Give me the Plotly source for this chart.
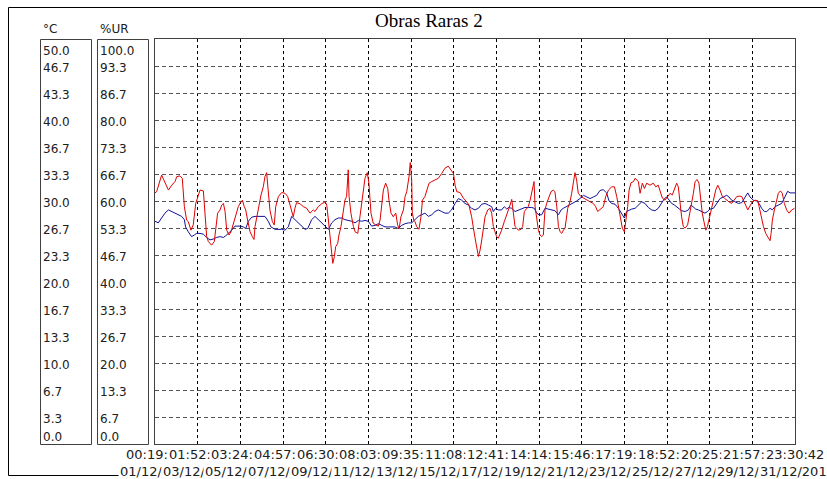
import plotly.graph_objects as go
from datetime import datetime, timedelta

# ---------------- data ----------------
title = "Obras Raras 2"
start = datetime(2019, 12, 1, 0, 19, 30)
end = datetime(2019, 12, 31, 23, 30, 42)

time_labels = ["00:19", "01:52", "03:24", "04:57", "06:30", "08:03", "09:35", "11:08",
               "12:41", "14:14", "15:46", "17:19", "18:52", "20:25", "21:57", "23:30:42"]
date_labels = ["01/12", "03/12", "05/12", "07/12", "09/12", "11/12", "13/12", "15/12",
               "17/12", "19/12", "21/12", "23/12", "25/12", "27/12", "29/12", "31/12/2019"]
temp_ticks = ["0.0", "3.3", "6.7", "10.0", "13.3", "16.7", "20.0", "23.3",
              "26.7", "30.0", "33.3", "36.7", "40.0", "43.3", "46.7", "50.0"]
rh_ticks = ["0.0", "6.7", "13.3", "20.0", "26.7", "33.3", "40.0", "46.7",
            "53.3", "60.0", "66.7", "73.3", "80.0", "86.7", "93.3", "100.0"]
temp_unit = "°C"
rh_unit = "%UR"
temp_range = [0, 50]
rh_range = [0, 100]

# (days since first record, °C)
temp_log = [
    (0.00, 27.5), (0.16, 27.3), (0.32, 27.9), (0.48, 28.5), (0.65, 28.9), (0.81, 28.7), (0.97, 28.5),
    (1.13, 28.3), (1.29, 28.1), (1.42, 27.7), (1.48, 26.8), (1.61, 26.2), (1.77, 25.6), (1.90, 25.8),
    (2.02, 26.0), (2.18, 26.0), (2.34, 25.9), (2.50, 25.5), (2.66, 25.2), (2.82, 25.3), (2.98, 25.5),
    (3.15, 25.6), (3.31, 25.5), (3.42, 25.7), (3.55, 26.0), (3.71, 26.4), (3.87, 26.9), (4.03, 26.9),
    (4.16, 26.9), (4.27, 26.8), (4.39, 26.6), (4.52, 27.5), (4.68, 28.0), (4.84, 28.1), (5.08, 28.1),
    (5.32, 28.1), (5.48, 27.5), (5.61, 26.8), (5.81, 26.5), (5.97, 26.5), (6.13, 26.5), (6.29, 26.4),
    (6.45, 26.8), (6.61, 28.1), (6.77, 27.7), (6.94, 27.3), (7.10, 26.9), (7.26, 26.5), (7.39, 26.6),
    (7.58, 27.7),
    (7.74, 28.1), (7.90, 27.7), (8.06, 27.3), (8.23, 26.9), (8.39, 26.5), (8.55, 27.3), (8.71, 27.7),
    (8.87, 27.9), (9.03, 27.9), (9.19, 27.7), (9.35, 27.6), (9.52, 27.5), (9.68, 27.3), (9.84, 27.6),
    (10.00, 27.5), (10.16, 27.6), (10.32, 27.5), (10.48, 26.9), (10.65, 27.0), (10.81, 27.2),
    (10.97, 27.0), (11.13, 26.8), (11.29, 26.8), (11.45, 26.8), (11.61, 26.8), (11.77, 26.6),
    (11.94, 27.0), (12.10, 27.2), (12.26, 27.3), (12.42, 27.3), (12.58, 27.7), (12.74, 28.1),
    (12.90, 28.3), (13.06, 28.5), (13.23, 28.1), (13.39, 28.3), (13.55, 28.7), (13.71, 28.9),
    (13.87, 28.7), (14.03, 28.5), (14.19, 28.5), (14.35, 28.9), (14.52, 29.7), (14.68, 30.3),
    (14.84, 30.1), (15.00, 29.7), (15.16, 29.5), (15.32, 29.1),
    (15.48, 28.9), (15.65, 29.1), (15.81, 29.6), (15.97, 29.7), (16.13, 29.5), (16.29, 29.3),
    (16.37, 28.7), (16.48, 29.1), (16.61, 28.9), (16.77, 28.9), (16.90, 29.3), (17.02, 29.0),
    (17.10, 29.2), (17.26, 29.1), (17.42, 28.7), (17.58, 28.9), (17.74, 29.1), (17.90, 29.2),
    (18.06, 29.2), (18.23, 29.2), (18.35, 29.1), (18.47, 28.5), (18.58, 28.3), (18.71, 28.3),
    (18.87, 29.1), (19.03, 29.0), (19.19, 28.9), (19.35, 28.8), (19.52, 28.3), (19.65, 28.9),
    (19.76, 29.1), (19.92, 29.3), (20.08, 29.5), (20.24, 29.7), (20.40, 30.0), (20.56, 30.3),
    (20.73, 30.7), (20.89, 30.5), (21.05, 30.3), (21.21, 30.5), (21.37, 30.7), (21.53, 31.3),
    (21.69, 31.4), (21.85, 31.0), (21.97, 30.0), (22.10, 29.7), (22.26, 29.6), (22.42, 29.1),
    (22.58, 28.5), (22.71, 27.9), (22.82, 28.7), (22.94, 28.9), (23.06, 29.0),
    (23.23, 29.1), (23.39, 29.5), (23.55, 29.9), (23.71, 29.7), (23.87, 29.2), (24.03, 28.9),
    (24.19, 28.8), (24.35, 29.1), (24.52, 29.7), (24.65, 30.3), (24.76, 30.5), (24.87, 30.1),
    (25.00, 29.7), (25.13, 29.5), (25.24, 29.3), (25.35, 29.1), (25.48, 28.8), (25.65, 28.7),
    (25.81, 28.9), (25.94, 29.5), (26.05, 29.3), (26.16, 29.0), (26.29, 28.9), (26.45, 28.7),
    (26.61, 28.5), (26.74, 28.7), (26.85, 29.0), (27.02, 29.1), (27.18, 29.7), (27.34, 30.3),
    (27.50, 30.5), (27.66, 30.7), (27.77, 30.5), (27.90, 30.1), (28.06, 29.9), (28.23, 29.7),
    (28.39, 29.8), (28.55, 30.5), (28.68, 31.0), (28.79, 30.5), (28.95, 30.1), (29.11, 30.0),
    (29.23, 29.7), (29.35, 29.1), (29.48, 28.7), (29.60, 28.7), (29.76, 29.1), (29.87, 28.9),
    (30.00, 29.3), (30.16, 29.5), (30.32, 29.7), (30.48, 30.5), (30.61, 31.2), (30.73, 31.0),
    (30.89, 31.0), (30.97, 31.0),
]

# (days since first record, %UR)
rh_log = [
    (0.00, 62.0), (0.08, 62.3), (0.32, 66.4), (0.48, 64.4), (0.65, 62.7), (0.81, 63.9), (0.97, 64.8),
    (1.05, 66.0), (1.21, 66.2), (1.32, 65.6), (1.42, 58.6), (1.53, 55.3), (1.61, 54.9), (1.74, 52.8),
    (1.85, 54.1), (1.97, 59.4), (2.06, 61.1), (2.18, 62.7), (2.34, 62.5), (2.42, 57.8), (2.50, 51.2),
    (2.58, 50.0), (2.74, 49.1), (2.87, 50.0), (2.94, 52.8), (3.03, 57.0), (3.15, 57.8), (3.23, 59.0),
    (3.31, 59.4), (3.39, 57.4), (3.47, 52.8), (3.58, 51.6), (3.68, 52.4), (3.79, 54.5), (3.90, 56.1),
    (4.03, 58.6), (4.11, 59.4), (4.23, 60.2), (4.32, 58.6), (4.39, 57.8), (4.48, 55.3), (4.60, 52.4),
    (4.71, 51.2), (4.79, 50.5), (4.84, 53.7), (4.92, 56.1), (5.03, 59.0), (5.13, 61.5), (5.24, 63.5),
    (5.32, 66.0), (5.40, 67.0), (5.48, 61.9), (5.56, 57.8), (5.68, 54.9), (5.77, 54.1), (5.84, 58.6),
    (5.97, 61.1), (6.13, 62.1), (6.29, 61.9), (6.42, 61.1), (6.50, 59.4), (6.61, 57.4), (6.69, 56.1),
    (6.77, 58.2), (6.85, 59.6), (7.02, 59.3), (7.18, 58.6), (7.34, 58.2), (7.50, 57.0), (7.66, 57.8),
    (7.74, 57.4), (7.90, 58.6), (8.06, 59.3), (8.23, 59.8), (8.31, 59.0), (8.39, 55.3), (8.47, 50.4),
    (8.55, 47.1), (8.60, 44.6), (8.68, 46.3), (8.74, 48.7), (8.84, 49.5), (8.90, 51.6), (9.00, 53.7),
    (9.11, 57.8), (9.19, 60.2), (9.27, 61.1), (9.35, 67.7), (9.39, 61.1), (9.48, 57.0), (9.60, 53.7),
    (9.68, 52.4), (9.81, 52.0), (9.87, 54.5), (9.97, 57.8), (10.05, 61.9), (10.16, 65.6),
    (10.27, 67.0), (10.35, 64.4), (10.45, 57.0), (10.56, 54.5), (10.68, 54.1), (10.81, 53.8),
    (10.89, 55.3), (10.97, 59.4), (11.05, 62.7), (11.16, 64.4), (11.26, 63.1), (11.32, 60.2),
    (11.42, 57.0), (11.53, 56.1), (11.65, 57.0), (11.74, 54.1), (11.81, 53.1), (11.90, 56.1),
    (12.02, 57.8), (12.10, 61.1), (12.18, 62.3), (12.29, 66.0), (12.35, 69.5), (12.42, 65.2),
    (12.45, 57.0), (12.52, 55.3), (12.58, 54.9), (12.66, 53.7), (12.77, 53.0), (12.87, 56.1),
    (12.94, 60.2), (13.06, 61.1), (13.15, 62.7), (13.26, 64.4), (13.39, 64.8), (13.55, 65.2),
    (13.71, 65.6), (13.87, 66.8), (14.03, 68.1), (14.19, 68.6), (14.35, 67.5), (14.44, 66.8),
    (14.52, 63.9), (14.60, 62.3), (14.76, 62.1), (14.92, 60.7), (15.08, 59.8), (15.19, 59.0),
    (15.32, 56.1), (15.45, 51.2),
    (15.48, 51.0), (15.65, 46.3), (15.73, 47.9), (15.81, 50.4), (15.89, 53.7), (15.97, 56.1),
    (16.10, 57.8), (16.21, 58.2), (16.29, 57.0), (16.37, 53.7), (16.45, 52.4), (16.53, 51.2),
    (16.61, 50.8), (16.69, 51.6), (16.77, 52.8), (16.90, 54.9), (17.02, 56.5), (17.10, 57.8),
    (17.18, 59.0), (17.26, 60.4), (17.34, 57.0), (17.42, 53.7), (17.50, 53.3), (17.58, 52.8),
    (17.71, 53.0), (17.79, 53.7), (17.87, 57.4), (17.95, 57.8), (18.06, 58.6), (18.15, 60.2),
    (18.26, 62.7), (18.34, 64.8), (18.39, 58.6), (18.47, 56.1), (18.55, 52.8), (18.63, 51.6),
    (18.71, 51.2), (18.79, 51.6), (18.87, 57.8), (18.95, 59.4), (19.03, 60.7), (19.16, 62.3),
    (19.27, 62.7), (19.35, 62.3), (19.44, 58.6), (19.52, 53.7), (19.60, 52.4), (19.68, 52.0),
    (19.76, 52.8), (19.84, 53.3), (19.97, 58.2), (20.08, 59.8), (20.16, 61.9), (20.24, 65.2),
    (20.32, 67.0), (20.40, 65.2), (20.48, 61.9), (20.61, 61.1), (20.73, 60.7), (20.89, 60.2),
    (21.05, 59.8), (21.21, 59.4), (21.32, 58.6), (21.42, 57.4), (21.53, 57.8), (21.69, 58.6),
    (21.81, 61.1), (21.94, 62.7), (22.10, 63.5), (22.23, 63.5), (22.34, 61.1), (22.45, 58.2),
    (22.55, 55.3), (22.61, 53.3), (22.71, 52.4), (22.77, 54.5), (22.87, 58.6), (22.94, 62.7),
    (23.03, 64.5), (23.15, 64.8),
    (23.23, 65.6), (23.39, 64.8), (23.47, 61.9), (23.58, 64.4), (23.68, 63.1), (23.79, 64.4),
    (23.95, 63.9), (24.11, 64.4), (24.23, 63.5), (24.35, 63.9), (24.44, 62.3), (24.55, 60.7),
    (24.68, 60.2), (24.81, 61.1), (24.92, 61.9), (25.03, 61.5), (25.13, 62.7), (25.24, 64.4),
    (25.32, 63.5), (25.40, 59.4), (25.48, 56.1), (25.56, 53.7), (25.65, 53.3), (25.77, 54.1),
    (25.85, 56.1), (25.94, 59.0), (26.05, 61.9), (26.13, 64.8), (26.23, 65.3), (26.32, 64.4),
    (26.40, 60.2), (26.48, 57.0), (26.56, 54.9), (26.65, 52.8), (26.73, 53.7), (26.81, 55.3),
    (26.90, 57.8), (27.02, 60.2), (27.13, 62.7), (27.23, 63.9), (27.34, 62.7), (27.45, 61.1),
    (27.55, 60.7), (27.66, 60.2), (27.77, 59.8), (27.90, 59.4), (28.03, 60.2), (28.15, 61.1),
    (28.26, 61.2), (28.39, 61.1), (28.47, 60.2), (28.58, 59.0), (28.68, 57.8), (28.79, 58.8),
    (28.90, 59.8), (29.03, 60.2), (29.16, 60.1), (29.23, 58.6), (29.32, 56.1), (29.44, 53.7),
    (29.55, 52.0), (29.68, 50.8), (29.76, 50.2), (29.81, 52.0), (29.87, 55.3), (29.97, 57.8),
    (30.08, 60.2), (30.16, 61.9), (30.26, 62.5), (30.35, 61.9), (30.45, 59.4), (30.56, 57.8),
    (30.68, 57.0), (30.81, 57.8), (30.94, 58.2),
]

# ---------------- layout helpers ----------------
W, H = 827, 479


def px(x):
    return x / W


def py(y):
    return 1 - y / H


def fmt(dt):
    return dt.strftime("%Y-%m-%d %H:%M:%S.%f")


t_x = [fmt(start + timedelta(days=d)) for d, _ in temp_log]
t_y = [v for _, v in temp_log]
r_x = [fmt(start + timedelta(days=d)) for d, _ in rh_log]
r_y = [v for _, v in rh_log]

n_div = len(time_labels) - 1
step = (end - start) / n_div
x_ticks = [fmt(start + step * k) for k in range(n_div + 1)]
y_ticks = [temp_range[0] + (temp_range[1] - temp_range[0]) * k / n_div for k in range(n_div + 1)]

fig = go.Figure()
fig.add_trace(go.Scatter(x=t_x, y=t_y, mode="lines", yaxis="y",
                         line=dict(color="#10109a", width=1), hoverinfo="skip"))
fig.add_trace(go.Scatter(x=r_x, y=r_y, mode="lines", yaxis="y2",
                         line=dict(color="#e00000", width=1), hoverinfo="skip"))

TXT = "DejaVu Sans"
annotations = []
annotations.append(dict(text=title, x=px(429), y=py(20), xref="paper", yref="paper",
                        xanchor="center", yanchor="middle", showarrow=False,
                        font=dict(family="Liberation Serif", size=19, color="black")))
annotations.append(dict(text=temp_unit, x=px(41), y=py(29), xref="paper", yref="paper",
                        xanchor="left", yanchor="middle", showarrow=False,
                        font=dict(family=TXT, size=12, color="#202020")))
annotations.append(dict(text=rh_unit, x=px(98), y=py(29), xref="paper", yref="paper",
                        xanchor="left", yanchor="middle", showarrow=False,
                        font=dict(family=TXT, size=12, color="#202020")))

for k, (tl, rl) in enumerate(zip(temp_ticks, rh_ticks)):
    if k == n_div:
        ys = -12
    elif k == 0:
        ys = 7.5
    else:
        ys = -1.5
    for lbl, xpix in ((tl, 41), (rl, 98)):
        annotations.append(dict(text=lbl, x=px(xpix), y=y_ticks[k], xref="paper", yref="y",
                                xanchor="left", yanchor="middle", yshift=ys, showarrow=False,
                                font=dict(family=TXT, size=12, color="#202020")))

for k in range(n_div + 1):
    tt = time_labels[k] + ("" if k == n_div else ":")
    dd = date_labels[k] + ("" if k == n_div else "/")
    annotations.append(dict(text=tt, x=x_ticks[k], y=py(454.5), xref="x", yref="paper",
                            xanchor="left", yanchor="middle", xshift=-31, showarrow=False,
                            bgcolor="white", borderpad=1,
                            font=dict(family=TXT, size=13, color="#202020")))
    annotations.append(dict(text=dd, x=x_ticks[k], y=py(471), xref="x", yref="paper",
                            xanchor="left", yanchor="middle", xshift=-37, showarrow=False,
                            bgcolor="white", borderpad=1,
                            font=dict(family=TXT, size=13, color="#202020")))

shapes = [
    dict(type="rect", xref="paper", yref="paper", x0=px(8.5), x1=1.05, y0=py(475.5), y1=py(7.5),
         line=dict(color="black", width=1), layer="below"),
    dict(type="rect", xref="paper", yref="paper", x0=px(40.5), x1=px(91.5), y0=py(444.5), y1=py(39.5),
         line=dict(color="#404040", width=1)),
    dict(type="rect", xref="paper", yref="paper", x0=px(97.5), x1=px(148.5), y0=py(444.5), y1=py(39.5),
         line=dict(color="#404040", width=1)),
]

fig.update_layout(
    width=W, height=H,
    margin=dict(l=0, r=0, t=0, b=0, pad=0),
    paper_bgcolor="white", plot_bgcolor="white",
    showlegend=False,
    hovermode=False,
    annotations=annotations,
    shapes=shapes,
    xaxis=dict(domain=[px(155), px(795)], type="date", range=[fmt(start), fmt(end)],
               tickvals=x_ticks, showticklabels=False, ticks="",
               showgrid=True, gridcolor="#000000", gridwidth=1, griddash="3px,3px",
               showline=True, mirror=True, linecolor="#404040", linewidth=1, zeroline=False),
    yaxis=dict(domain=[py(444), py(39)], range=temp_range, tickvals=y_ticks,
               showticklabels=False, ticks="",
               showgrid=True, gridcolor="#555555", gridwidth=1, griddash="4px,3px",
               showline=True, mirror=True, linecolor="#404040", linewidth=1, zeroline=False),
    yaxis2=dict(overlaying="y", range=rh_range, showgrid=False, showticklabels=False,
                ticks="", zeroline=False, showline=False),
)

# place the 827x479 figure flush with the window corner (remove the page's default body margin)
fig.write_html("out.html",
               config={"displayModeBar": False, "staticPlot": True},
               post_script="document.body.style.margin='0';document.body.style.overflow='hidden';")
